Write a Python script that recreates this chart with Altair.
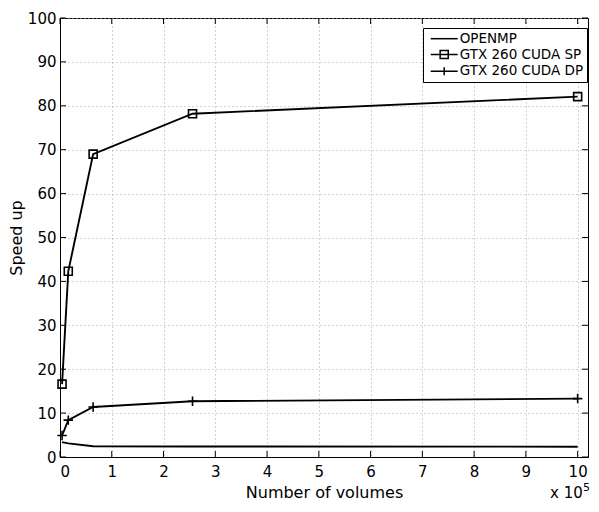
import altair as alt
import pandas as pd

# Data (x in units of 1e5 volumes)
x_vals = [0.04, 0.16, 0.64, 2.56, 10.0]
openmp = [3.4, 3.1, 2.45, 2.4, 2.35]
cuda_sp = [16.6, 42.3, 69.0, 78.2, 82.1]
cuda_dp = [4.9, 8.4, 11.4, 12.7, 13.3]
series_names = ["OPENMP", "GTX 260 CUDA SP", "GTX 260 CUDA DP"]
x_ticks = list(range(0, 11))
y_ticks = list(range(0, 101, 10))

rows = []
for name, ys in zip(series_names, [openmp, cuda_sp, cuda_dp]):
    for xv, yv in zip(x_vals, ys):
        rows.append({"series": name, "x": xv, "y": yv})
df = pd.DataFrame(rows)

W, H = 528, 439
FONT = "DejaVu Sans"

xs = alt.Scale(domain=[0, 10.2], nice=False, zero=False)
ys = alt.Scale(domain=[0, 100], nice=False)
xaxis = alt.Axis(values=x_ticks, title="Number of volumes", ticks=False,
                 labelPadding=7, titlePadding=5, format="d")
yaxis = alt.Axis(values=y_ticks, title="Speed up", ticks=False,
                 labelPadding=4, titlePadding=3, format="d")
X = alt.X("x:Q", scale=xs, axis=xaxis)
Y = alt.Y("y:Q", scale=ys, axis=yaxis)

base = alt.Chart(df)

lines = base.mark_line(color="black", strokeWidth=1.9).encode(
    x=X, y=Y, detail="series:N"
)

sp_pts = base.transform_filter(alt.datum.series == "GTX 260 CUDA SP").mark_point(
    shape="square", size=64, filled=False, color="black", strokeWidth=1.6, opacity=1
).encode(x=X, y=Y)

dp_pts = base.transform_filter(alt.datum.series == "GTX 260 CUDA DP").mark_point(
    shape="M-1,0H1M0,-1V1", size=90, filled=False, color="black", strokeWidth=1.6, opacity=1
).encode(x=X, y=Y)

legend_paths = [
    "M-2,0H2",
    "M-2,0H2M-0.6,-0.6H0.6V0.6H-0.6Z",
    "M-2,0H2M0,-0.6V0.6",
]
legend_layer = base.mark_point(filled=False, color="black", opacity=0, strokeWidth=1.5).encode(
    x=X, y=Y,
    shape=alt.Shape(
        "series:N",
        scale=alt.Scale(domain=series_names, range=legend_paths),
        sort=series_names,
        legend=alt.Legend(
            title=None, orient="none", legendX=363, legendY=10,
            strokeColor="black", fillColor="white", padding=3.2,
            symbolSize=182, symbolStrokeWidth=1.5, symbolStrokeColor="black",
            symbolFillColor="transparent", symbolOpacity=1, symbolOffset=10.5,
            labelFont=FONT, labelFontSize=13.5, labelColor="black", labelOffset=8,
            rowPadding=1.8, cornerRadius=0,
        ),
    ),
)

xt = pd.DataFrame({"x": x_ticks})
yt = pd.DataFrame({"y": y_ticks})
TL = 6
tick_bottom = alt.Chart(xt).mark_rule(color="black", strokeWidth=1).encode(
    x=X, y=alt.value(H), y2=alt.value(H - TL))
tick_top = alt.Chart(xt).mark_rule(color="black", strokeWidth=1).encode(
    x=X, y=alt.value(0), y2=alt.value(TL))
tick_left = alt.Chart(yt).mark_rule(color="black", strokeWidth=1).encode(
    y=Y, x=alt.value(0), x2=alt.value(TL))
tick_right = alt.Chart(yt).mark_rule(color="black", strokeWidth=1).encode(
    y=Y, x=alt.value(W), x2=alt.value(W - TL))

mult = alt.Chart(pd.DataFrame({"t": ["x 10"]})).mark_text(
    font=FONT, fontSize=15, align="left", baseline="alphabetic", color="black"
).encode(x=alt.value(490), y=alt.value(480), text="t:N")
expo = alt.Chart(pd.DataFrame({"t": ["5"]})).mark_text(
    font=FONT, fontSize=11, align="left", baseline="alphabetic", color="black"
).encode(x=alt.value(523), y=alt.value(473), text="t:N")

chart = alt.layer(
    lines, sp_pts, dp_pts, legend_layer,
    tick_bottom, tick_top, tick_left, tick_right, mult, expo
).properties(
    width=W, height=H,
    autosize=alt.AutoSizeParams(type="none"),
    padding={"left": 52, "top": 10, "right": 3, "bottom": 45},
    background="white",
).configure_view(
    stroke="black", strokeWidth=1
).configure_axis(
    domainColor="black", domainWidth=1,
    gridColor="#a8a8a8", gridDash=[1, 3], gridWidth=1,
    labelFont=FONT, labelFontSize=15, labelColor="black",
    titleFont=FONT, titleFontSize=16, titleColor="black", titleFontWeight="normal",
)

chart.save("out.html", embed_options={"renderer": "svg", "actions": False})
